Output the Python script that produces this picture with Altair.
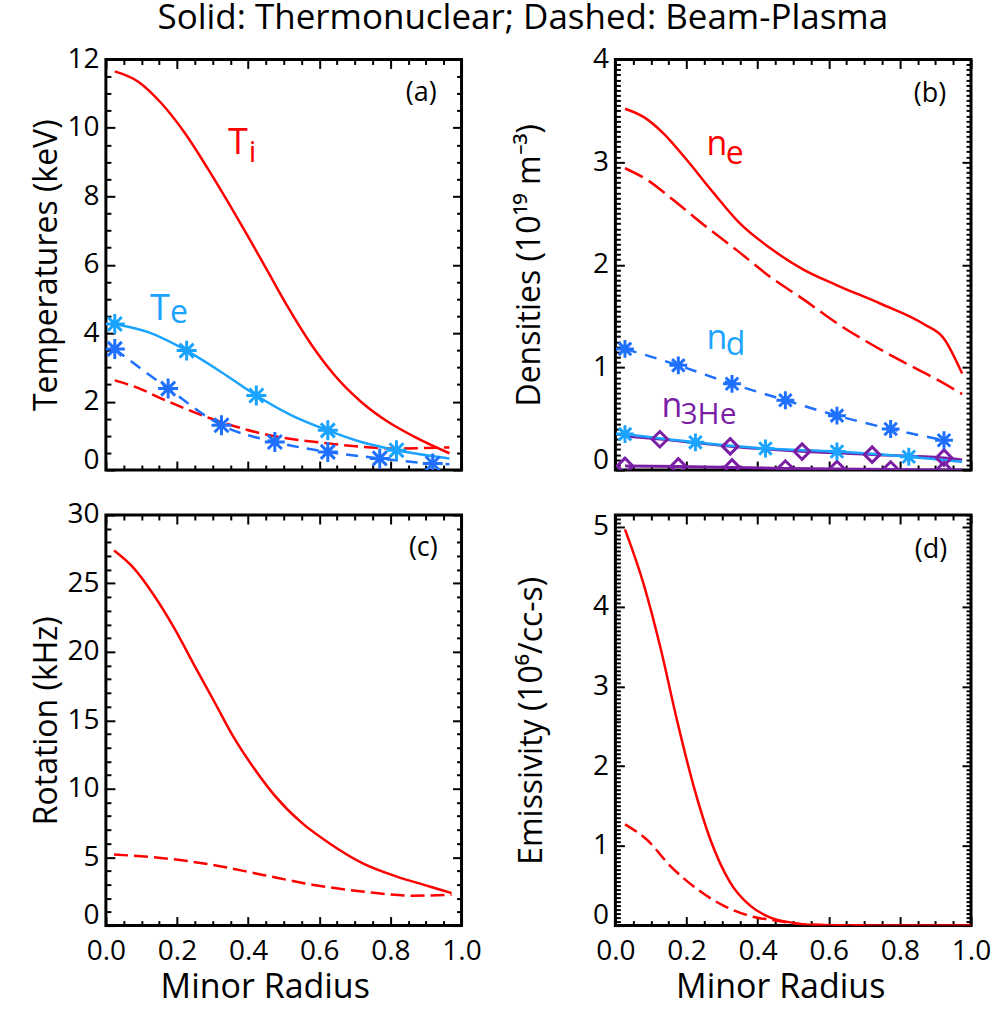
import altair as alt
import pandas as pd

FONT = "Open Sans"
RED = "#FF0000"
BLUE = "#1AA3FF"
BLUE_D = "#1F70FF"
PURPLE = "#7A1FA5"
TITLE = "Solid: Thermonuclear; Dashed: Beam-Plasma"

# ---------------- data ----------------
# (a) temperatures (keV)
ti_th_r = [0.025, 0.091, 0.156, 0.222, 0.287, 0.344, 0.400, 0.456, 0.512, 0.578, 0.643, 0.718, 0.793, 0.868, 0.966]
ti_th = [11.65, 11.35, 10.72, 9.85, 8.80, 7.82, 6.82, 5.79, 4.76, 3.66, 2.77, 1.99, 1.41, 0.97, 0.49]
ti_bp_r = [0.025, 0.090, 0.156, 0.297, 0.437, 0.624, 0.812, 0.966]
ti_bp = [2.62, 2.40, 2.09, 1.50, 1.07, 0.78, 0.63, 0.66]
te_th_r = [0.025, 0.119, 0.227, 0.325, 0.423, 0.522, 0.624, 0.718, 0.817, 0.966]
te_th = [4.27, 4.03, 3.49, 2.86, 2.18, 1.60, 1.16, 0.82, 0.58, 0.34]
te_th_mk_r = [0.025, 0.227, 0.423, 0.624, 0.817]
te_th_mk = [4.27, 3.49, 2.18, 1.16, 0.58]
te_bp_r = [0.025, 0.175, 0.325, 0.475, 0.624, 0.770, 0.919, 0.966]
te_bp = [3.54, 2.38, 1.31, 0.82, 0.53, 0.34, 0.19, 0.17]
te_bp_mk_r = [0.025, 0.175, 0.325, 0.475, 0.624, 0.770, 0.919]
te_bp_mk = [3.54, 2.38, 1.31, 0.82, 0.53, 0.34, 0.19]

# (b) densities (1e19 m^-3)
ne_th_r = [0.027, 0.079, 0.135, 0.201, 0.276, 0.351, 0.436, 0.530, 0.623, 0.746, 0.868, 0.924, 0.975]
ne_th = [3.52, 3.44, 3.28, 3.02, 2.70, 2.40, 2.16, 1.95, 1.80, 1.62, 1.42, 1.28, 0.94]
ne_bp_r = [0.027, 0.088, 0.163, 0.248, 0.342, 0.436, 0.530, 0.623, 0.717, 0.811, 0.905, 0.975]
ne_bp = [2.94, 2.83, 2.63, 2.39, 2.14, 1.88, 1.66, 1.43, 1.23, 1.05, 0.88, 0.74]
nd_bp_r = [0.027, 0.177, 0.328, 0.478, 0.623, 0.774, 0.924]
nd_bp = [1.18, 1.02, 0.84, 0.68, 0.53, 0.40, 0.29]
nd_th_r = [0.027, 0.225, 0.422, 0.623, 0.825, 0.975]
nd_th = [0.35, 0.27, 0.21, 0.18, 0.13, 0.08]
nd_th_mk_r = [0.027, 0.225, 0.422, 0.623, 0.825]
nd_th_mk = [0.35, 0.27, 0.21, 0.18, 0.13]
he_th_r = [0.027, 0.125, 0.323, 0.525, 0.722, 0.924, 0.975]
he_th = [0.33, 0.30, 0.23, 0.18, 0.15, 0.12, 0.10]
he_th_mk_r = [0.125, 0.323, 0.525, 0.722, 0.924]
he_th_mk = [0.30, 0.23, 0.18, 0.15, 0.12]
he_bp_r = [0.027, 0.177, 0.328, 0.478, 0.623, 0.774, 0.924, 0.975]
he_bp = [0.04, 0.035, 0.025, 0.015, 0.01, 0.005, 0.0, 0.0]
he_bp_mk_r = [0.027, 0.177, 0.328, 0.478, 0.623, 0.774, 0.924]
he_bp_mk = [0.04, 0.035, 0.025, 0.015, 0.01, 0.005, 0.0]

# (c) rotation (kHz)
rot_th_r = [0.023, 0.079, 0.136, 0.193, 0.249, 0.306, 0.363, 0.419, 0.476, 0.551, 0.627, 0.721, 0.816, 0.910, 0.972]
rot_th = [27.4, 26.1, 24.1, 21.7, 19.0, 16.3, 13.6, 11.4, 9.46, 7.50, 6.04, 4.57, 3.60, 2.86, 2.37]
rot_bp_r = [0.023, 0.155, 0.297, 0.438, 0.580, 0.721, 0.863, 0.972]
rot_bp = [5.19, 4.94, 4.45, 3.72, 2.99, 2.49, 2.18, 2.25]

# (d) emissivity (1e6/cc-s)
em_th_r = [0.027, 0.079, 0.126, 0.173, 0.220, 0.267, 0.323, 0.379, 0.436, 0.492, 0.55, 0.70, 0.85, 1.0]
em_th = [4.97, 4.29, 3.50, 2.58, 1.75, 1.08, 0.54, 0.25, 0.10, 0.04, 0.01, 0.0, 0.0, 0.0]
em_bp_r = [0.027, 0.088, 0.154, 0.229, 0.304, 0.379, 0.454, 0.55, 0.70]
em_bp = [1.27, 1.08, 0.75, 0.46, 0.25, 0.12, 0.06, 0.01, 0.0]

# annotation texts: (text, r, value, font size, colour, align)
ann_a = [("T", 0.343, 9.25, 36, RED, "left"), ("i", 0.402, 8.99, 30, RED, "left"),
         ("T", 0.124, 4.38, 36, BLUE, "left"), ("e", 0.180, 4.29, 32, BLUE, "left"),
         ("(a)", 0.930, 10.8, 27, "black", "right")]
ann_b = [("n", 0.256, 3.07, 34, RED, "left"), ("e", 0.310, 2.98, 32, RED, "left"),
         ("n", 0.256, 1.18, 34, BLUE, "left"), ("d", 0.310, 1.12, 32, BLUE, "left"),
         ("n", 0.130, 0.52, 34, PURPLE, "left"), ("3He", 0.183, 0.45, 30, PURPLE, "left"),
         ("(b)", 0.930, 3.59, 27, "black", "right")]
ann_c = [("(c)", 0.933, 27.0, 27, "black", "right")]
ann_d = [("(d)", 0.933, 4.61, 27, "black", "right")]

# ---------------- styling ----------------
W, H = 356, 411
MAJ, MIN, TW = 9, 5, 2
X_MAJ = [0.0, 0.2, 0.4, 0.6, 0.8, 1.0]
X_MIN = [round(i * 0.05, 2) for i in range(1, 20) if i % 4]
ASTER = "M-1,0L1,0M0,-1L0,1M-0.7,-0.7L0.7,0.7M-0.7,0.7L0.7,-0.7"


def steps(lo, hi, step):
    n = int(round((hi - lo) / step))
    return [round(lo + i * step, 3) for i in range(n + 1)]


def panel(lines, marks, texts, ydom, ymaj, ystep, ytitle, ytx, bottom, xtx, msize):
    xs = alt.Scale(domain=[0, 1], nice=False, zero=False)
    ys = alt.Scale(domain=ydom, nice=False, zero=False)
    ymin = [v for v in steps(0, ydom[1], ystep) if all(abs(v - m) > 1e-6 for m in ymaj)]
    layers = []

    def enc(ch):
        return ch.encode(x=alt.X("r:Q", scale=xs, axis=None),
                         y=alt.Y("v:Q", scale=ys, axis=None))

    for r, v, color, dash, width in lines:
        kw = dict(color=color, strokeWidth=width, interpolate="monotone", clip=True)
        if dash:
            kw["strokeDash"] = dash
        layers.append(enc(alt.Chart(pd.DataFrame({"r": r, "v": v})).mark_line(**kw)))
    for r, v, color, shape, scale in marks:
        layers.append(enc(alt.Chart(pd.DataFrame({"r": r, "v": v})).mark_point(
            shape=shape, size=msize * scale, filled=False, strokeWidth=3, color=color, opacity=1, clip=True)))
    for t, r, v, size, color, align in texts:
        layers.append(enc(alt.Chart(pd.DataFrame({"r": [r], "v": [v], "t": [t]})).mark_text(
            font=FONT, fontSize=size, color=color, align=align, baseline="alphabetic").encode(text="t:N")))

    carrier = pd.DataFrame({"r": [0, 1], "v": ydom})
    common = dict(domain=False, grid=False, tickColor="black", tickWidth=TW)

    def ax(orient, values, size, **kw):
        return alt.Axis(orient=orient, values=values, tickSize=size, offset=-size, **common, **kw)

    xlab = dict(labels=True, labelFont=FONT, labelFontSize=28, labelColor="black", labelPadding=12,
                format=".1f", labelFlush=False, labelOverlap=False,
                titleFont=FONT, titleFontSize=34, titleFontWeight="normal", titleColor="black",
                titleX=xtx, titleY=81, titleBaseline="alphabetic", titleAlign="center") if bottom else dict(labels=False)
    ylab = dict(labels=True, labelFont=FONT, labelFontSize=28, labelColor="black", labelPadding=7,
                labelOverlap=False, labelFlush=False, format="d",
                labelOffset={"condition": {"test": "datum.value == 0", "value": -10}, "value": 0},
                titleFont=FONT, titleFontSize=32, titleFontWeight="normal", titleColor="black",
                titleX=ytx - MAJ, titleBaseline="middle", titleAlign="center", titleAngle=270)

    axdefs = [
        (ax("bottom", X_MAJ, MAJ, **xlab), ax("left", ymaj, MAJ, **ylab),
         "Minor Radius" if bottom else None, ytitle),
        (ax("bottom", X_MIN, MIN, labels=False), ax("left", ymin, MIN, labels=False), None, None),
        (ax("top", X_MAJ, MAJ, labels=False), ax("right", ymaj, MAJ, labels=False), None, None),
        (ax("top", X_MIN, MIN, labels=False), ax("right", ymin, MIN, labels=False), None, None),
    ]
    for xa, ya, xt, yt in axdefs:
        layers.append(alt.Chart(carrier).mark_point(opacity=0).encode(
            x=alt.X("r:Q", scale=xs, axis=xa, title=xt),
            y=alt.Y("v:Q", scale=ys, axis=ya, title=yt)))
    return alt.layer(*layers).resolve_axis(x="independent", y="independent").properties(width=W, height=H)


pa = panel(
    [(ti_th_r, ti_th, RED, None, 2.5), (ti_bp_r, ti_bp, RED, [14, 6], 2.5),
     (te_bp_r, te_bp, BLUE_D, [12, 8], 2.5), (te_th_r, te_th, BLUE, None, 2.5)],
    [(te_bp_mk_r, te_bp_mk, BLUE_D, ASTER, 1), (te_th_mk_r, te_th_mk, BLUE, ASTER, 1)],
    ann_a, [0, 12], steps(0, 12, 2), 0.5, "Temperatures (keV)", -59, False, 0, 400)

pb = panel(
    [(ne_th_r, ne_th, RED, None, 2.5), (ne_bp_r, ne_bp, RED, [20, 7], 2.5),
     (he_bp_r, he_bp, PURPLE, None, 3), (he_th_r, he_th, PURPLE, None, 2.5),
     (nd_bp_r, nd_bp, BLUE_D, [12, 9], 2.5), (nd_th_r, nd_th, BLUE, None, 2.5)],
    [(he_bp_mk_r, he_bp_mk, PURPLE, "diamond", 0.75), (he_th_mk_r, he_th_mk, PURPLE, "diamond", 0.75),
     (nd_bp_r, nd_bp, BLUE_D, ASTER, 1), (nd_th_mk_r, nd_th_mk, BLUE, ASTER, 1)],
    ann_b, [0, 4], steps(0, 4, 1), 0.05, "Densities (10¹⁹ m⁻³)", -86, False, 0, 320)

pc = panel(
    [(rot_th_r, rot_th, RED, None, 2.5), (rot_bp_r, rot_bp, RED, [14, 6], 2.5)],
    [], ann_c, [0, 30], steps(0, 30, 5), 1, "Rotation (kHz)", -59, True, 159, 0)

pd_ = panel(
    [(em_bp_r, em_bp, RED, [14, 6], 2.5), (em_th_r, em_th, RED, None, 2.5)],
    [], ann_d, [0, 5.15], steps(0, 5, 1), 0.05, "Emissivity (10⁶/cc-s)", -84, True, 165, 0)

chart = alt.concat(
    pa, pb, pc, pd_, columns=2, spacing={"row": 45, "column": 154}, bounds="flush"
).properties(
    title=alt.TitleParams(TITLE, font=FONT, fontSize=35, fontWeight="normal", color="black",
                          anchor="middle", offset=8, dx=12),
    padding={"left": 29, "top": 0, "right": 0, "bottom": 0},
    background="white",
).configure_view(stroke="black", strokeWidth=3)

chart.save("out.html", embed_options={"renderer": "svg", "actions": False})
